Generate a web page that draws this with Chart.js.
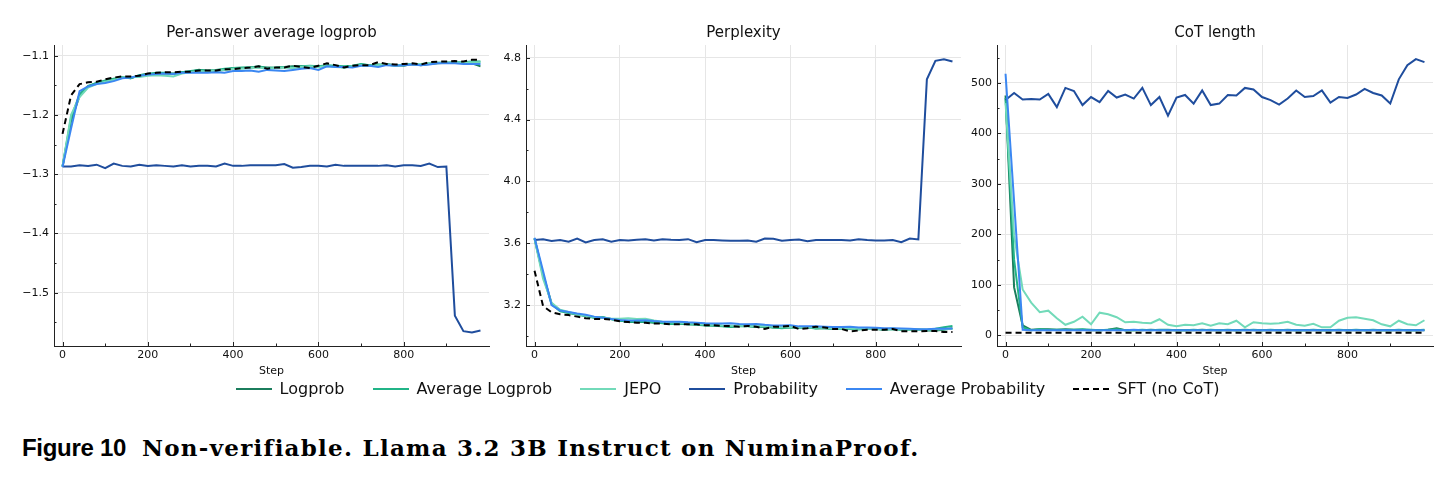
<!DOCTYPE html>
<html>
<head>
<meta charset="utf-8">
<script src="https://cdn.jsdelivr.net/npm/chart.js@4/dist/chart.umd.min.js"></script>
<style>
  html, body { margin: 0; padding: 0; background: #fff; }
  #page { position: relative; width: 1455px; height: 480px; overflow: hidden; font-family: "DejaVu Sans", sans-serif; }
  .panel { position: absolute; top: 0; }
  .title { position: absolute; top: 23px; font-size: 15px; color: #111; text-align: center; }
  #legend { position: absolute; top: 379px; left: 0; width: 1455px; display: flex; justify-content: center; font-size: 16px; color: #111; }
  #legend .item { display: flex; align-items: center; margin: 0 14px; }
  #legend .sw { width: 36px; height: 0; border-top: 2px solid; margin-right: 8px; }
  #caption { position: absolute; left: 22px; top: 434px; white-space: nowrap; }
  #caption .fig { font-family: "Liberation Sans", sans-serif; font-weight: bold; font-size: 24px; letter-spacing: -0.3px; }
  #caption .txt { font-family: "DejaVu Serif", serif; font-weight: bold; font-size: 23px; letter-spacing: 1.25px; margin-left: 16px; }
</style>
</head>
<body>
<div id="page">
  <div class="panel" style="left:0px"><canvas id="c1" width="500" height="382"></canvas></div>
  <div class="panel" style="left:470px"><canvas id="c2" width="500" height="382"></canvas></div>
  <div class="panel" style="left:940px"><canvas id="c3" width="505" height="382"></canvas></div>
  <div class="title" style="left:54px;width:435px">Per-answer average logprob</div>
  <div class="title" style="left:526px;width:435px">Perplexity</div>
  <div class="title" style="left:997px;width:436px">CoT length</div>
  <div id="legend"></div>
  <div id="caption"><span class="fig">Figure 10</span><span class="txt">Non-verifiable. Llama 3.2 3B Instruct on NuminaProof.</span></div>
</div>
<script>
/* training steps (x axis) */
var STEPS = [0, 20, 40, 60, 80, 100, 120, 140, 160, 180, 200, 220, 240, 260, 280, 300, 320, 340, 360, 380,
  400, 420, 440, 460, 480, 500, 520, 540, 560, 580, 600, 620, 640, 660, 680, 700, 720, 740, 760, 780,
  800, 820, 840, 860, 880, 900, 920, 940, 960, 980];

var SERIES = ['Logprob', 'Average Logprob', 'JEPO', 'Probability', 'Average Probability', 'SFT (no CoT)'];
var COLORS = ['#1b7d5c', '#21b487', '#72dab9', '#1f4d9d', '#3b87f2', '#000000'];

var X_TICKS = [0, 200, 400, 600, 800];
var X_MINOR = [100, 300, 500, 700, 900];

/* panel 1: per-answer average logprob */
var LP_LOGPROB = [-1.287, -1.210, -1.168, -1.152, -1.146, -1.143, -1.140, -1.137, -1.138, -1.133, -1.131, -1.130, -1.130, -1.130, -1.128, -1.127, -1.124, -1.126, -1.126, -1.124,
  -1.121, -1.121, -1.120, -1.119, -1.120, -1.121, -1.119, -1.118, -1.118, -1.119, -1.118, -1.117, -1.118, -1.120, -1.118, -1.115, -1.116, -1.117, -1.114, -1.116,
  -1.117, -1.114, -1.116, -1.114, -1.113, -1.112, -1.112, -1.112, -1.113, -1.118];
var LP_AVG_LOGPROB = [-1.287, -1.205, -1.165, -1.151, -1.146, -1.142, -1.139, -1.136, -1.138, -1.133, -1.131, -1.129, -1.129, -1.131, -1.128, -1.126, -1.124, -1.125, -1.124, -1.122,
  -1.121, -1.120, -1.120, -1.118, -1.121, -1.120, -1.119, -1.120, -1.118, -1.117, -1.118, -1.116, -1.117, -1.118, -1.117, -1.114, -1.116, -1.115, -1.115, -1.117,
  -1.115, -1.114, -1.115, -1.113, -1.112, -1.112, -1.111, -1.111, -1.110, -1.110];
var LP_JEPO = [-1.287, -1.200, -1.170, -1.154, -1.148, -1.144, -1.141, -1.137, -1.136, -1.136, -1.134, -1.133, -1.134, -1.135, -1.130, -1.128, -1.126, -1.127, -1.125, -1.124,
  -1.122, -1.122, -1.121, -1.120, -1.122, -1.121, -1.120, -1.121, -1.119, -1.118, -1.119, -1.118, -1.119, -1.120, -1.118, -1.116, -1.117, -1.116, -1.115, -1.117,
  -1.116, -1.114, -1.114, -1.113, -1.112, -1.112, -1.112, -1.111, -1.111, -1.111];
var LP_PROB = [-1.287, -1.287, -1.285, -1.286, -1.284, -1.290, -1.282, -1.286, -1.287, -1.284, -1.286, -1.285, -1.286, -1.287, -1.285, -1.287, -1.286, -1.286, -1.287, -1.282,
  -1.286, -1.286, -1.285, -1.285, -1.285, -1.285, -1.283, -1.289, -1.288, -1.286, -1.286, -1.287, -1.284, -1.286, -1.286, -1.286, -1.286, -1.286, -1.285, -1.287,
  -1.285, -1.285, -1.286, -1.282, -1.288, -1.287, -1.539, -1.565, -1.567, -1.564];
var LP_AVG_PROB = [-1.288, -1.223, -1.160, -1.152, -1.148, -1.146, -1.143, -1.138, -1.137, -1.134, -1.132, -1.131, -1.130, -1.131, -1.129, -1.129, -1.129, -1.129, -1.128, -1.129,
  -1.126, -1.126, -1.125, -1.127, -1.124, -1.125, -1.126, -1.124, -1.122, -1.121, -1.124, -1.118, -1.119, -1.119, -1.120, -1.117, -1.117, -1.119, -1.116, -1.117,
  -1.116, -1.115, -1.116, -1.115, -1.113, -1.113, -1.113, -1.114, -1.114, -1.114];
var LP_SFT = [-1.232, -1.167, -1.148, -1.145, -1.144, -1.140, -1.137, -1.135, -1.135, -1.134, -1.130, -1.129, -1.128, -1.128, -1.127, -1.127, -1.125, -1.125, -1.125, -1.123,
  -1.123, -1.121, -1.120, -1.118, -1.122, -1.120, -1.120, -1.117, -1.119, -1.121, -1.117, -1.113, -1.116, -1.120, -1.117, -1.116, -1.116, -1.111, -1.114, -1.115,
  -1.114, -1.113, -1.115, -1.111, -1.110, -1.110, -1.109, -1.110, -1.107, -1.107];
var LP_TICKS = [-1.5, -1.4, -1.3, -1.2, -1.1];
var LP_MINOR = [-1.55, -1.45, -1.35, -1.25, -1.15];

/* panel 2: perplexity */
var PPL_LOGPROB = [3.630, 3.400, 3.210, 3.165, 3.150, 3.140, 3.130, 3.120, 3.120, 3.110, 3.100, 3.090, 3.090, 3.090, 3.085, 3.085, 3.080, 3.080, 3.075, 3.075,
  3.070, 3.070, 3.065, 3.060, 3.065, 3.065, 3.060, 3.060, 3.055, 3.055, 3.055, 3.055, 3.055, 3.050, 3.050, 3.045, 3.050, 3.045, 3.045, 3.050,
  3.045, 3.040, 3.045, 3.040, 3.040, 3.040, 3.035, 3.035, 3.040, 3.050];
var PPL_AVG_LOGPROB = [3.630, 3.390, 3.205, 3.160, 3.148, 3.138, 3.128, 3.118, 3.122, 3.108, 3.098, 3.094, 3.090, 3.094, 3.088, 3.082, 3.078, 3.080, 3.076, 3.072,
  3.068, 3.066, 3.062, 3.058, 3.064, 3.062, 3.058, 3.062, 3.054, 3.050, 3.056, 3.052, 3.054, 3.048, 3.052, 3.046, 3.048, 3.046, 3.042, 3.050,
  3.046, 3.042, 3.048, 3.040, 3.040, 3.042, 3.040, 3.046, 3.056, 3.064];
var PPL_JEPO = [3.630, 3.370, 3.215, 3.170, 3.155, 3.140, 3.130, 3.122, 3.118, 3.112, 3.112, 3.114, 3.110, 3.112, 3.100, 3.092, 3.088, 3.086, 3.082, 3.078,
  3.074, 3.072, 3.068, 3.066, 3.066, 3.064, 3.062, 3.066, 3.060, 3.056, 3.058, 3.054, 3.054, 3.056, 3.052, 3.048, 3.050, 3.048, 3.046, 3.050,
  3.046, 3.042, 3.044, 3.042, 3.040, 3.040, 3.040, 3.042, 3.044, 3.046];
var PPL_PROB = [3.620, 3.625, 3.615, 3.620, 3.610, 3.630, 3.605, 3.620, 3.625, 3.610, 3.620, 3.618, 3.622, 3.625, 3.618, 3.626, 3.622, 3.620, 3.626, 3.606,
  3.620, 3.620, 3.618, 3.616, 3.616, 3.618, 3.610, 3.630, 3.628, 3.616, 3.620, 3.624, 3.612, 3.620, 3.620, 3.620, 3.620, 3.618, 3.626, 3.620,
  3.618, 3.618, 3.620, 3.606, 3.630, 3.624, 4.660, 4.780, 4.790, 4.775];
var PPL_AVG_PROB = [3.635, 3.420, 3.200, 3.165, 3.155, 3.145, 3.137, 3.125, 3.118, 3.110, 3.103, 3.100, 3.100, 3.102, 3.096, 3.092, 3.092, 3.092, 3.088, 3.086,
  3.082, 3.080, 3.080, 3.082, 3.078, 3.076, 3.078, 3.072, 3.068, 3.068, 3.070, 3.062, 3.062, 3.063, 3.060, 3.058, 3.058, 3.060, 3.054, 3.055,
  3.053, 3.050, 3.050, 3.048, 3.046, 3.044, 3.044, 3.046, 3.046, 3.048];
var PPL_SFT = [3.422, 3.194, 3.153, 3.140, 3.135, 3.125, 3.115, 3.110, 3.110, 3.105, 3.095, 3.090, 3.085, 3.085, 3.080, 3.080, 3.075, 3.075, 3.075, 3.075,
  3.070, 3.070, 3.065, 3.065, 3.060, 3.065, 3.060, 3.045, 3.060, 3.060, 3.065, 3.045, 3.050, 3.060, 3.055, 3.045, 3.045, 3.030, 3.035, 3.040,
  3.040, 3.040, 3.045, 3.030, 3.030, 3.030, 3.032, 3.032, 3.025, 3.025];
var PPL_TICKS = [3.2, 3.6, 4.0, 4.4, 4.8];
var PPL_MINOR = [3.0, 3.4, 3.8, 4.2, 4.6];

/* panel 3: CoT length */
var COT_LOGPROB = [475, 95, 20, 11, 12, 12, 11, 12, 11, 11, 10, 10, 11, 14, 10, 10, 10, 11, 10, 10,
  10, 10, 10, 11, 10, 10, 10, 10, 11, 10, 10, 10, 10, 10, 10, 10, 10, 10, 10, 10,
  10, 10, 10, 10, 10, 10, 10, 10, 10, 10];
var COT_AVG_LOGPROB = [470, 150, 16, 10, 12, 11, 11, 11, 11, 12, 11, 10, 11, 12, 10, 10, 11, 10, 11, 11,
  10, 10, 11, 10, 11, 10, 11, 10, 10, 11, 10, 11, 10, 11, 10, 10, 11, 10, 10, 11,
  10, 11, 10, 11, 10, 10, 11, 10, 10, 11];
var COT_JEPO = [460, 198, 91, 65, 46, 49, 34, 21, 27, 37, 22, 45, 42, 36, 26, 27, 25, 24, 32, 21,
  18, 21, 20, 24, 19, 24, 22, 29, 16, 26, 24, 23, 24, 27, 21, 19, 23, 16, 16, 29,
  35, 36, 33, 30, 22, 18, 29, 22, 20, 30];
var COT_PROB = [466, 480, 467, 468, 467, 478, 452, 490, 484, 456, 472, 462, 484, 471, 477, 469, 490, 456, 472, 435,
  471, 476, 459, 485, 456, 459, 476, 475, 490, 487, 472, 466, 457, 469, 485, 472, 474, 485, 461, 472,
  470, 477, 488, 480, 475, 459, 507, 535, 547, 541];
var COT_AVG_PROB = [518, 265, 11, 10, 10, 10, 10, 10, 10, 10, 10, 10, 10, 10, 10, 11, 10, 10, 10, 10,
  10, 10, 10, 10, 10, 10, 10, 10, 10, 10, 10, 10, 10, 10, 10, 10, 10, 10, 10, 10,
  10, 10, 10, 10, 10, 10, 10, 10, 10, 10];
var COT_SFT = [5, 5, 5, 5, 5, 5, 5, 5, 5, 5, 5, 5, 5, 5, 5, 5, 5, 5, 5, 5,
  5, 5, 5, 5, 5, 5, 5, 5, 5, 5, 5, 5, 5, 5, 5, 5, 5, 5, 5, 5,
  5, 5, 5, 5, 5, 5, 5, 5, 5, 5];
var COT_TICKS = [0, 100, 200, 300, 400, 500];
var COT_MINOR = [50, 150, 250, 350, 450, 550];

var MINUS = '\u2212';

/* ticks point inward like the original, plus minor ticks */
var innerTicks = {
  id: 'innerTicks',
  afterDraw: function (chart, args, o) {
    var ctx = chart.ctx, a = chart.chartArea, x = chart.scales.x, y = chart.scales.y;
    ctx.save();
    ctx.strokeStyle = '#222';
    ctx.lineWidth = 1;
    function seg(x1, y1, x2, y2) { ctx.beginPath(); ctx.moveTo(x1, y1); ctx.lineTo(x2, y2); ctx.stroke(); }
    X_TICKS.forEach(function (v) { var p = Math.round(x.getPixelForValue(v)) + 0.5; seg(p, a.bottom, p, a.bottom - 4); });
    X_MINOR.forEach(function (v) { var p = Math.round(x.getPixelForValue(v)) + 0.5; seg(p, a.bottom, p, a.bottom - 2.5); });
    o.major.forEach(function (v) { var p = Math.round(y.getPixelForValue(v)) + 0.5; seg(a.left, p, a.left + 4, p); });
    o.minor.forEach(function (v) { var p = Math.round(y.getPixelForValue(v)) + 0.5; seg(a.left, p, a.left + 2.5, p); });
    ctx.restore();
  }
};

function makePanel(id, cfg) {
  var arrays = cfg.data;
  var sets = SERIES.map(function (name, i) {
    return {
      label: name,
      data: STEPS.map(function (s, k) { return { x: s, y: arrays[i][k] }; }),
      borderColor: COLORS[i],
      borderWidth: 2,
      borderDash: i === 5 ? [6, 4] : [],
      pointRadius: 0,
      fill: false,
      tension: 0
    };
  }).reverse(); // chart.js paints first dataset on top

  return new Chart(document.getElementById(id), {
    type: 'line',
    data: { datasets: sets },
    plugins: [innerTicks],
    options: {
      responsive: false,
      animation: false,
      devicePixelRatio: 1,
      layout: { padding: { top: 45, right: cfg.padRight, left: 0, bottom: 0 } },
      plugins: {
        legend: { display: false },
        tooltip: { enabled: false },
        innerTicks: { major: cfg.yTicks, minor: cfg.yMinor }
      },
      scales: {
        x: {
          type: 'linear',
          min: -20, max: 1000,
          afterBuildTicks: function (s) { s.ticks = X_TICKS.map(function (v) { return { value: v }; }); },
          afterFit: function (s) { s.height = 36; },
          grid: { color: '#e6e6e6', drawTicks: false },
          border: { color: '#222', width: 1 },
          ticks: { color: '#111', font: { family: 'DejaVu Sans', size: 11 }, padding: 3, maxRotation: 0 },
          title: { display: true, text: 'Step', color: '#111', font: { family: 'DejaVu Sans', size: 11 }, padding: { top: 0, bottom: 4 } }
        },
        y: {
          type: 'linear',
          min: cfg.yMin, max: cfg.yMax,
          afterBuildTicks: function (s) { s.ticks = cfg.yTicks.map(function (v) { return { value: v }; }); },
          afterFit: function (s) { s.width = cfg.axisW; },
          grid: { color: '#e6e6e6', drawTicks: false },
          border: { color: '#222', width: 1 },
          ticks: {
            color: '#111', font: { family: 'DejaVu Sans', size: 11 }, padding: 5,
            callback: function (v) { return (v < 0 ? MINUS : '') + Math.abs(v).toFixed(cfg.dec); }
          }
        }
      }
    }
  });
}

makePanel('c1', {
  data: [LP_LOGPROB, LP_AVG_LOGPROB, LP_JEPO, LP_PROB, LP_AVG_PROB, LP_SFT],
  yMin: -1.59, yMax: -1.082, yTicks: LP_TICKS, yMinor: LP_MINOR, dec: 1, axisW: 54, padRight: 11
});
makePanel('c2', {
  data: [PPL_LOGPROB, PPL_AVG_LOGPROB, PPL_JEPO, PPL_PROB, PPL_AVG_PROB, PPL_SFT],
  yMin: 2.935, yMax: 4.882, yTicks: PPL_TICKS, yMinor: PPL_MINOR, dec: 1, axisW: 56, padRight: 9
});
makePanel('c3', {
  data: [COT_LOGPROB, COT_AVG_LOGPROB, COT_JEPO, COT_PROB, COT_AVG_PROB, COT_SFT],
  yMin: -21, yMax: 575, yTicks: COT_TICKS, yMinor: COT_MINOR, dec: 0, axisW: 57, padRight: 12
});

/* legend */
var legend = document.getElementById('legend');
SERIES.forEach(function (name, i) {
  var it = document.createElement('div');
  it.className = 'item';
  var sw = document.createElement('span');
  sw.className = 'sw';
  sw.style.borderTopColor = COLORS[i];
  if (i === 5) sw.style.borderTopStyle = 'dashed';
  var tx = document.createElement('span');
  tx.textContent = name;
  it.appendChild(sw);
  it.appendChild(tx);
  legend.appendChild(it);
});
</script>
</body>
</html>
